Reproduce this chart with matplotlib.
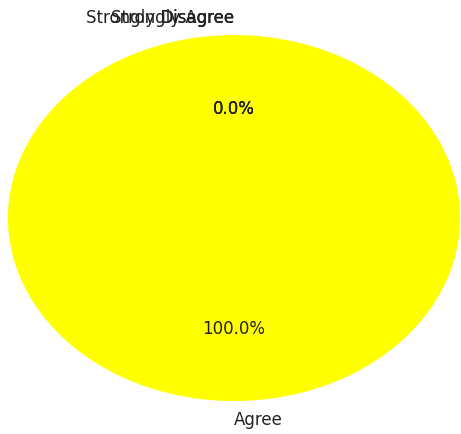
import matplotlib
matplotlib.use("Agg")
import matplotlib.pyplot as plt

# survey answers (only "Agree" was picked)
labels = ["Agree", "Strongly Agree", "Disagree", "Strongly Disagree"]
counts = [1, 0, 0, 0]
colors = ["yellow", "green", "orange", "red"]

fig = plt.figure(figsize=(4.61, 4.35), dpi=100)
ax = fig.add_axes([0, 0, 1, 1])

wedges, texts, autotexts = ax.pie(
    counts, labels=labels, colors=colors, autopct="%1.1f%%",
    startangle=90, counterclock=True,
    textprops={"fontsize": 12, "color": "#222222"},
)

# the empty slices all sit at the top, their labels pile up to the left of centre
for t, c in zip(texts, counts):
    t.set_horizontalalignment("left" if c > 0 else "right")

# stretched pie, like the original
ax.set_aspect("auto")
ax.set_xlim(-1.035, 1.004)
ax.set_ylim(-1.18, 1.197)
ax.axis("off")

fig.savefig("out.png", dpi=100)
